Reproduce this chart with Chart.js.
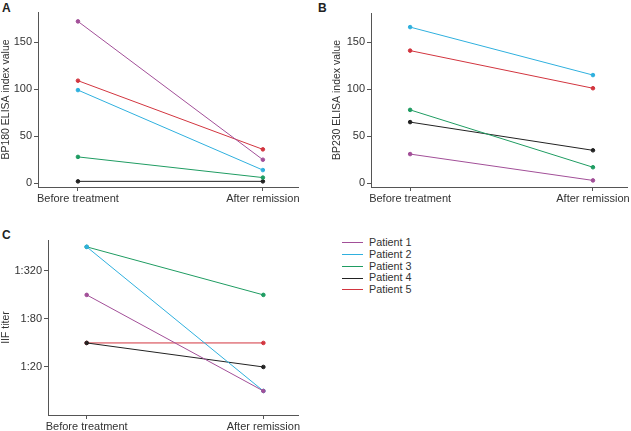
<!DOCTYPE html>
<html>
<head>
<meta charset="utf-8">
<script src="https://cdn.jsdelivr.net/npm/chart.js@4/dist/chart.umd.min.js"></script>
<style>
  body { margin: 0; background: #fff; width: 631px; height: 431px; position: relative; overflow: hidden; font-family: "Liberation Sans", Arial, sans-serif; }
  .panel { position: absolute; }
  .tag { position: absolute; font-weight: bold; font-size: 12px; color: #222; }
  #legend { position: absolute; left: 342px; top: 237px; font-size: 10.8px; color: #333; }
  #legend div { height: 11.75px; line-height: 11.75px; display: flex; align-items: center; }
  #legend span.sw { display: inline-block; width: 21px; height: 1px; margin-right: 6px; }
</style>
</head>
<body>
<div class="tag" style="left:2px;top:1px">A</div>
<div class="tag" style="left:318px;top:1px">B</div>
<div class="tag" style="left:2px;top:228px">C</div>
<div class="panel" style="left:0;top:0;width:310px;height:215px"><canvas id="chartA"></canvas></div>
<div class="panel" style="left:315px;top:0;width:316px;height:215px"><canvas id="chartB"></canvas></div>
<div class="panel" style="left:0;top:225px;width:310px;height:206px"><canvas id="chartC"></canvas></div>
<div id="legend"></div>
<script>
const categories = ["Before treatment", "After remission"];
const patients = ["Patient 1", "Patient 2", "Patient 3", "Patient 4", "Patient 5"];
const colors = ["#a24f98", "#2fb0de", "#1f9c62", "#222222", "#d2353f"];

// [before, after] per patient
const bp180 = [[172, 25], [99, 14], [28, 6], [2, 2], [109, 36]];
const bp230 = [[31, 3], [166, 115], [78, 17], [65, 35], [141, 101]];
const iifTiter = [[160, 10], [640, 10], [640, 160], [40, 20], [40, 40]];

const elisaTicks = [0, 50, 100, 150];
const iifTicks = [20, 80, 320];

const axisColor = "#555";
const tickFont = { family: "Liberation Sans, Arial, sans-serif", size: 11 };
const titleFont = { family: "Liberation Sans, Arial, sans-serif", size: 10.5 };

function makeDatasets(values) {
  return values.map((v, i) => ({
    label: patients[i],
    data: v.map((y, x) => ({ x: x, y: y })),
    borderColor: colors[i],
    backgroundColor: colors[i],
    borderWidth: 1,
    pointRadius: 1.8,
    pointHoverRadius: 1.8,
    tension: 0,
  }));
}

function makeChart(id, w, h, values, yOpts, box) {
  const canvas = document.getElementById(id);
  canvas.width = w;
  canvas.height = h;
  return new Chart(canvas, {
    type: "line",
    data: { datasets: makeDatasets(values) },
    options: {
      responsive: false,
      animation: false,
      layout: { padding: { left: box.padLeft, top: box.top, right: box.right, bottom: 0 } },
      plugins: { legend: { display: false }, tooltip: { enabled: false } },
      scales: {
        x: {
          type: "linear",
          min: box.xMin,
          max: box.xMax,
          afterBuildTicks: (s) => { s.ticks = [{ value: 0 }, { value: 1 }]; },
          afterFit: (s) => { s.height = box.xHeight; },
          ticks: { callback: (v) => categories[v], color: "#333", font: tickFont, padding: 1, maxRotation: 0, autoSkip: false },
          grid: { drawOnChartArea: false, drawTicks: true, tickLength: 4, color: axisColor },
          border: { color: axisColor, width: 1 },
        },
        y: Object.assign({
          afterFit: (s) => { s.width = box.yWidth; },
          ticks: Object.assign({ color: "#333", font: tickFont, padding: 2 }, yOpts.ticks || {}),
          grid: { drawOnChartArea: false, drawTicks: true, tickLength: 4, color: axisColor },
          border: { color: axisColor, width: 1 },
          title: { display: true, text: yOpts.title, color: "#333", font: titleFont, padding: { top: 0, bottom: 0 } },
        }, yOpts.scale),
      },
    },
  });
}

makeChart("chartA", 310, 215, bp180, {
  title: "BP180 ELISA index value",
  scale: { min: -4, max: 182, afterBuildTicks: (s) => { s.ticks = elisaTicks.map((v) => ({ value: v })); } },
}, { padLeft: 0, top: 12, right: 12, yWidth: 38, xHeight: 28, xMin: -0.216, xMax: 1.19 });

makeChart("chartB", 316, 215, bp230, {
  title: "BP230 ELISA index value",
  scale: { min: -4, max: 181, afterBuildTicks: (s) => { s.ticks = elisaTicks.map((v) => ({ value: v })); } },
}, { padLeft: 16, top: 13, right: 0, yWidth: 40, xHeight: 28, xMin: -0.214, xMax: 1.19 });

makeChart("chartC", 310, 206, iifTiter, {
  title: "IIF titer",
  ticks: { callback: (v) => "1:" + v },
  scale: { type: "logarithmic", min: 5, max: 780, afterBuildTicks: (s) => { s.ticks = iifTicks.map((v) => ({ value: v })); } },
}, { padLeft: 0, top: 15, right: 12, yWidth: 48, xHeight: 16, xMin: -0.219, xMax: 1.196 });

// Legend
const legend = document.getElementById("legend");
patients.forEach((p, i) => {
  const row = document.createElement("div");
  row.innerHTML = '<span class="sw" style="background:' + colors[i] + '"></span>' + p;
  legend.appendChild(row);
});
</script>
</body>
</html>
